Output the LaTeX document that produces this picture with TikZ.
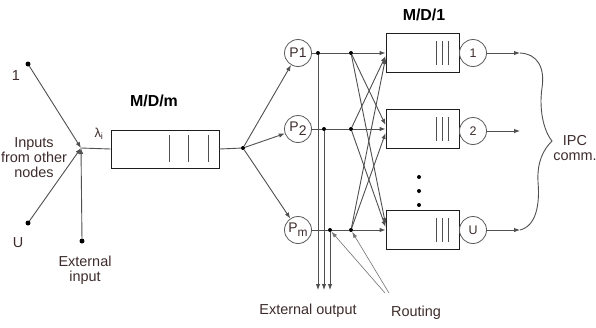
\documentclass[tikz,border=0pt]{standalone}
\usepackage{fontspec}
\setmainfont{Liberation Sans}
\usetikzlibrary{arrows.meta}
\definecolor{txt}{RGB}{62,44,44}
\definecolor{wirec}{RGB}{80,80,80}
\definecolor{boxc}{RGB}{30,30,30}
\definecolor{circc}{RGB}{90,90,90}
\begin{document}
\begin{tikzpicture}[x=1bp,y=-1bp,
  lbl/.style={font=\fontsize{14.5}{15}\selectfont, text=txt, align=center, inner sep=0pt},
  ttl/.style={font=\fontsize{16}{18}\selectfont\bfseries, text=black, inner sep=0pt},
  wire/.style={draw=wirec, line width=0.9bp},
  arr/.style={wire, -{Latex[length=6bp,width=4.5bp]}},
  route/.style={draw=wirec!80, line width=0.6bp, -{Latex[length=6bp,width=4bp]}},
  dot/.style={circle, fill=black, inner sep=0pt, minimum size=4bp},
  bigdot/.style={circle, fill=black, inner sep=0pt, minimum size=5bp},
  queue/.style={rectangle, draw=boxc, line width=0.9bp, fill=white,
    minimum width=73bp, minimum height=39bp, inner sep=0pt},
  srv/.style={circle, draw=circc, line width=0.8bp, fill=white,
    minimum size=27bp, inner sep=0pt, font=\fontsize{14}{14}\selectfont, text=txt},
  bar/.style={draw=wirec, line width=0.8bp},
]
\fill[white] (0,0) rectangle (596,327);
\useasboundingbox (0,0) rectangle (596,327);

% ---- arrivals ----
\node[bigdot] (in1) at (28,64) {};
\node[bigdot] (inU) at (28,223) {};
\node[bigdot] (ext) at (82,241) {};
\coordinate (J) at (81,148);
\node[lbl] (l1) at (16,76) {1};
\node[lbl] (lU) at (18,243) {U};
\node[lbl] (lin) at (34,158) {Inputs\\from other\\nodes};
\node[lbl] (lext) at (85,270) {External\\input};
\node[lbl, font=\fontsize{13}{13}\selectfont] (lam) at (99,134) {λ\textsubscript{i}};
\draw[arr] (in1) -- (J);
\draw[arr] (inU) -- (J);
\draw[arr] (ext) -- (J);

% ---- M/D/m queue ----
\node[queue, minimum width=108bp, minimum height=38bp] (mdm) at (165,149) {};
\node[ttl] (tmdm) at (154,101) {M/D/m};
\foreach \x in {169,188,208} \draw[bar] (\x,135) -- (\x,162);
\draw[wire] (J) -- (mdm.west);
\node[dot] (sp) at (243,148) {};
\draw[wire] (mdm.east) -- (sp);

% ---- processors ----
\node[srv] (p1) at (298,53) {P1};
\node[srv] (p2) at (298,129) {P\raisebox{-4bp}{2}};
\node[srv] (pm) at (298,230) {P\raisebox{-4bp}{\fontsize{12}{12}\selectfont m}};
\draw[arr] (sp) -- (p1);
\draw[arr] (sp) -- (p2);
\draw[arr] (sp) -- (pm);

% ---- M/D/1 queues and servers ----
\node[ttl] (tmd1) at (424,15) {M/D/1};
\node[queue] (q1) at (422.5,53) {};
\node[queue] (q2) at (422.5,129) {};
\node[queue] (qU) at (422.5,230) {};
\foreach \y in {53,129,230}
  \foreach \x in {436,442,448} \draw[bar] (\x,\y-12) -- (\x,\y+12);
\node[srv, font=\fontsize{12.5}{12.5}\selectfont] (s1) at (473,53) {1};
\node[srv, font=\fontsize{12.5}{12.5}\selectfont] (s2) at (473,131) {2};
\node[srv, font=\fontsize{12.5}{12.5}\selectfont] (sU) at (473,230) {U};
\node[dot] (d1) at (419,177) {};
\node[dot] (d2) at (419,191) {};
\node[dot] (d3) at (419,205) {};

% ---- routing fabric ----
\node[dot] (o1) at (318,53) {};
\node[dot] (o2) at (324,129) {};
\node[dot] (om) at (330,230) {};
\node[dot] (r1) at (351,53) {};
\node[dot] (r2) at (351,129) {};
\node[dot] (rm) at (351,230) {};
\draw[wire] (p1) -- (o1) -- (r1);
\draw[wire] (p2) -- (o2) -- (r2);
\draw[wire] (pm) -- (om) -- (rm);
\draw[arr] (r1) -- (q1.west);
\draw[arr] (r2) -- (q2.west);
\draw[arr] (rm) -- (qU.west);
\draw[arr] (r1) -- ([yshift=4bp]q2.west);
\draw[arr] (r1) -- ([yshift=6bp]qU.west);
\draw[arr] (r2) -- ([yshift=-3bp]q1.west);
\draw[arr] (r2) -- ([yshift=3bp]qU.west);
\draw[arr] (rm) -- ([yshift=-5bp]q1.west);
\draw[arr] (rm) -- ([yshift=-4bp]q2.west);

% ---- external output ----
\coordinate (e1) at (318,290);
\coordinate (e2) at (324,290);
\coordinate (em) at (330,290);
\draw[arr] (o1) -- (e1);
\draw[arr] (o2) -- (e2);
\draw[arr] (om) -- (em);
\node[lbl] (lout) at (308,311) {External output};

% ---- routing pointers ----
\coordinate (rt1) at (385,293);
\coordinate (rt2) at (389,293);
\draw[route] (rt1) -- (om);
\draw[route] (rt2) -- (rm);
\node[lbl] (lrt) at (416,313) {Routing};

% ---- departures and IPC brace ----
\coordinate (t1) at (520,53);
\coordinate (t2) at (520,131);
\coordinate (tU) at (520,230);
\draw[arr] (s1) -- (t1);
\draw[arr] (s2) -- (t2);
\draw[arr] (sU) -- (tU);
\coordinate (tip) at (552,141);
\draw[wire] (t1) .. controls (538,54) and (545,68) .. (542,88)
  .. controls (539,108) and (543,130) .. (tip)
  .. controls (543,150) and (537,162) .. (538,182)
  .. controls (540,205) and (536,226) .. (tU);
\node[lbl] (lipc) at (575,148) {IPC\\comm.};
\end{tikzpicture}
\end{document}
